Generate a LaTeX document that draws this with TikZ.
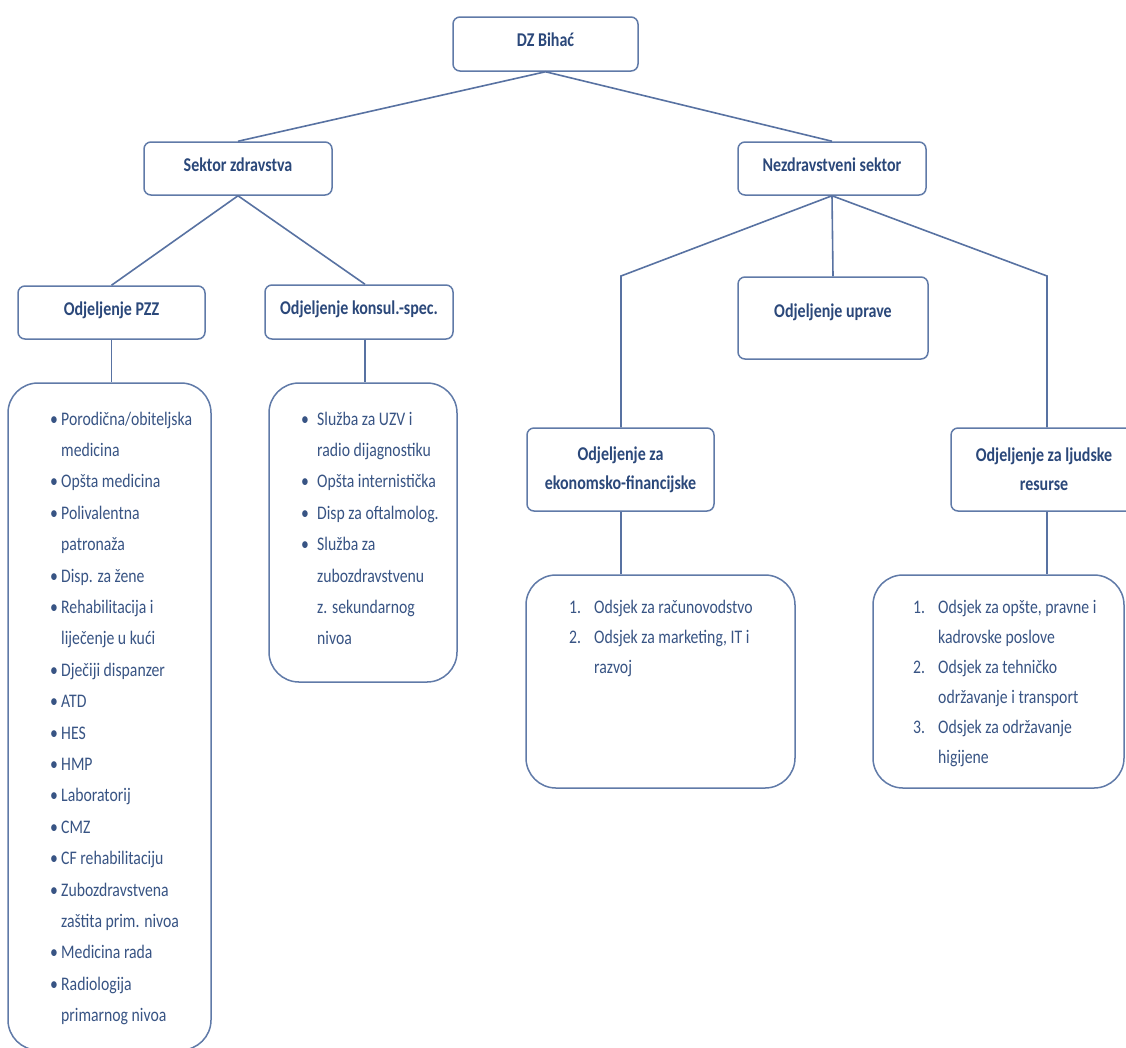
\documentclass[tikz,border=0pt]{standalone}
\usepackage{fontspec}
\setmainfont{Carlito}[FakeStretch=0.82]
\newfontfamily\cfam{Carlito}[FakeStretch=0.82]
\newfontfamily\hfam{Carlito}[UprightFont=*-Bold, Extension=.ttf, FakeStretch=0.82]
\newcommand\hfont{\hfam\fontsize{19.5}{29}\selectfont}
\newcommand\lfont{\cfam\fontsize{19.2}{22}\selectfont}
\definecolor{bcol}{RGB}{96,122,168}
\definecolor{lcol}{RGB}{88,114,162}
\definecolor{hcol}{RGB}{43,72,122}
\definecolor{tcol}{RGB}{56,84,132}
\tikzset{
  box/.style={draw=bcol, line width=1.5pt, rounded corners=7pt, fill=white, inner sep=0pt, font=\hfont, text=hcol, align=center},
  onel/.style={text height=0.75em, text depth=0.25em},
  lbox/.style={draw=bcol, line width=1.5pt, rounded corners=30pt, fill=white, inner sep=0pt},
  conn/.style={draw=lcol, line width=1.6pt},
  ltxt/.style={anchor=base west, inner sep=0pt, font=\lfont, text=tcol},
  bul/.style={anchor=base, inner sep=0pt, font=\lfont, text=tcol},
}
\newcommand\myitem[6]{\node[bul] (#1b) at (#2,#4) {#5}; \node[ltxt] (#1) at (#3,#4) {#6};}
\newcommand\mycont[4]{\node[ltxt] (#1) at (#2,#3) {#4};}
\begin{document}
\begin{tikzpicture}[x=1pt,y=-1pt]
\useasboundingbox (0,0) rectangle (1126,1047);
\clip (0,0) rectangle (1126,1047);
\fill[white] (0,0) rectangle (1126,1047);

% heading boxes
\node[box,onel,minimum width=185pt,minimum height=54pt] (dz) at (545.5,44) {DZ Biha\'c};
\node[box,onel,minimum width=188pt,minimum height=53pt] (sz) at (238,168.5) {Sektor zdravstva};
\node[box,onel,minimum width=188pt,minimum height=53pt] (ns) at (832,168.5) {Nezdravstveni sektor};
\node[box,onel,minimum width=187pt,minimum height=53pt] (pzz) at (111.5,312.5) {Odjeljenje PZZ};
\node[box,onel,minimum width=188pt,minimum height=54pt] (ks) at (359,312) {Odjeljenje konsul.-spec.};
\node[box,minimum width=190pt,minimum height=82pt] (up) at (833,318) {};
\node[anchor=base, inner sep=0pt, font=\hfont, text=hcol] (upt) at (833,317) {Odjeljenje uprave};
\node[box,minimum width=187pt,minimum height=83pt] (ek) at (620.5,469.5) {Odjeljenje za\\ekonomsko-financijske};
\node[box,minimum width=186pt,minimum height=83pt] (lj) at (1044,469.5) {Odjeljenje za ljudske\\resurse};

% list boxes
\node[lbox,minimum width=203pt,minimum height=667pt] (pzzl) at (109.5,716.5) {};
\node[lbox,minimum width=188pt,minimum height=299pt] (ksl) at (363,532.5) {};
\node[lbox,minimum width=269pt,minimum height=213pt] (ekl) at (660.5,681.5) {};
\node[lbox,minimum width=251pt,minimum height=213pt] (ljl) at (998.5,681.5) {};

% knees
\coordinate (kl) at (621,276);
\coordinate (kr) at (1047,276);

% connectors
\draw[conn] (dz.south) -- (sz.north);
\draw[conn] (dz.south) -- (ns.north);
\draw[conn] (sz.south) -- (pzz.north);
\draw[conn] (sz.south) -- ([xshift=6pt]ks.north);
\draw[conn] (pzz.south) -- (pzz.south |- pzzl.north);
\draw[conn] ([xshift=6pt]ks.south) -- ([xshift=6pt]ks.south |- ksl.north);
\draw[conn] (ns.south) -- (kl) -- (kl |- ek.north);
\draw[conn] (ns.south) -- (up.north);
\draw[conn] (ns.south) -- (kr) -- (kr |- lj.north);
\draw[conn] (kl |- ek.south) -- (kl |- ekl.north);
\draw[conn] (kr |- lj.south) -- (kr |- ljl.north);

% PZZ list
\myitem{p1}{54}{61}{425.0}{•}{Porodična/obiteljska}
\mycont{p2}{61}{456.4}{medicina}
\myitem{p3}{54}{61}{487.8}{•}{Opšta medicina}
\myitem{p4}{54}{61}{519.2}{•}{Polivalentna}
\mycont{p5}{61}{550.6}{patronaža}
\myitem{p6}{54}{61}{582.0}{•}{Disp. za žene}
\myitem{p7}{54}{61}{613.4}{•}{Rehabilitacija i}
\mycont{p8}{61}{644.8}{liječenje u kući}
\myitem{p9}{54}{61}{676.2}{•}{Dječiji dispanzer}
\myitem{p10}{54}{61}{707.6}{•}{ATD}
\myitem{p11}{54}{61}{739.0}{•}{HES}
\myitem{p12}{54}{61}{770.4}{•}{HMP}
\myitem{p13}{54}{61}{801.8}{•}{Laboratorij}
\myitem{p14}{54}{61}{833.2}{•}{CMZ}
\myitem{p15}{54}{61}{864.6}{•}{CF rehabilitaciju}
\myitem{p16}{54}{61}{896.0}{•}{Zubozdravstvena}
\mycont{p17}{61}{927.4}{zaštita prim. nivoa}
\myitem{p18}{54}{61}{958.8}{•}{Medicina rada}
\myitem{p19}{54}{61}{990.2}{•}{Radiologija}
\mycont{p20}{61}{1021.6}{primarnog nivoa}

% konsul list
\myitem{k1}{305}{317}{425.0}{•}{Služba za UZV i}
\mycont{k2}{317}{456.4}{radio dijagnostiku}
\myitem{k3}{305}{317}{487.8}{•}{Opšta internistička}
\myitem{k4}{305}{317}{519.2}{•}{Disp za oftalmolog.}
\myitem{k5}{305}{317}{550.6}{•}{Služba za}
\mycont{k6}{317}{582.0}{zubozdravstvenu}
\mycont{k7}{317}{613.4}{z. sekundarnog}
\mycont{k8}{317}{644.8}{nivoa}

% ekonomsko list
\node[ltxt] (e1n) at (569,613) {1.};
\mycont{e1}{594}{613}{Odsjek za računovodstvo}
\node[ltxt] (e2n) at (569,643) {2.};
\mycont{e2}{594}{643}{Odsjek za marketing, IT i}
\mycont{e3}{594}{673}{razvoj}

% ljudske list
\node[ltxt] (l1n) at (913,613) {1.};
\mycont{l1}{938}{613}{Odsjek za opšte, pravne i}
\mycont{l2}{938}{643}{kadrovske poslove}
\node[ltxt] (l3n) at (913,673) {2.};
\mycont{l3}{938}{673}{Odsjek za tehničko}
\mycont{l4}{938}{703}{održavanje i transport}
\node[ltxt] (l5n) at (913,733) {3.};
\mycont{l5}{938}{733}{Odsjek za održavanje}
\mycont{l6}{938}{763}{higijene}
\end{tikzpicture}
\end{document}
